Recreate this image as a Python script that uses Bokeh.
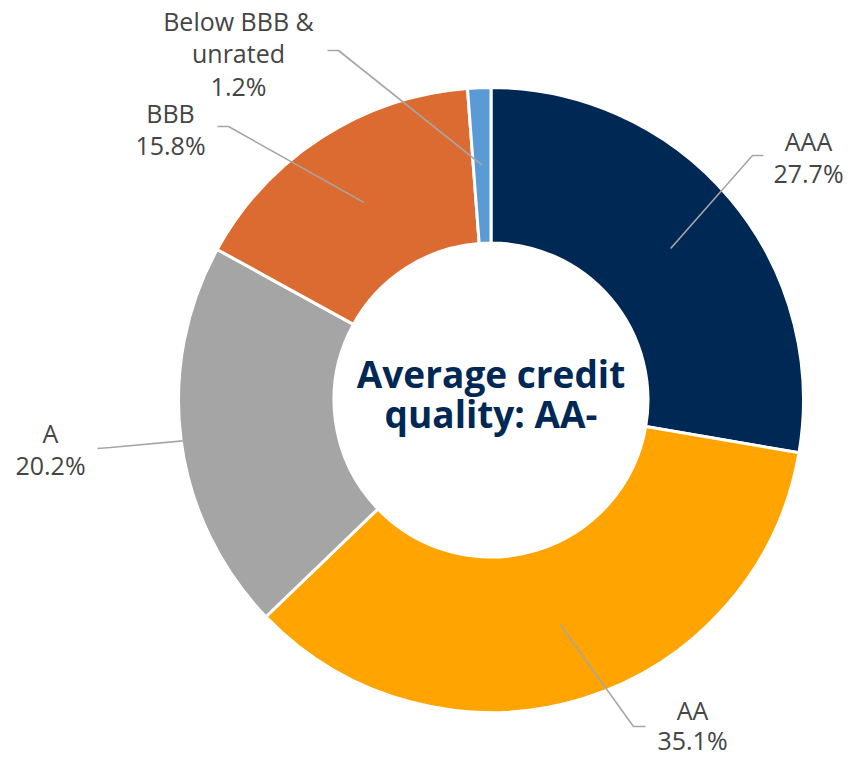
import numpy as np
from bokeh.plotting import figure
from bokeh.models import Range1d
from bokeh.core.properties import value
from bokeh.embed import file_html
from bokeh.resources import INLINE

# ---- data ----
categories = ["AAA", "AA", "A", "BBB", "Below BBB & unrated"]
label_lines = [["AAA"], ["AA"], ["A"], ["BBB"], ["Below BBB &", "unrated"]]
shares = [27.7, 35.1, 20.2, 15.8, 1.2]
colors = ["#002855", "#FFA400", "#A5A5A5", "#DC6B31", "#5B9BD5"]
center_title = ["Average credit", "quality: AA-"]

# ---- layout (screen-pixel helpers) ----
W, H = 851, 758
def Y(sy):  # screen y -> data y
    return H - sy

cx, cy = 490.5, Y(399.5)
r_out, r_in = 312.5, 157

p = figure(width=W, height=H, output_backend="svg", toolbar_location=None,
           x_range=Range1d(0, W), y_range=Range1d(0, H),
           min_border=0)
p.axis.visible = False
p.grid.visible = False
p.outline_line_color = None
p.background_fill_color = "white"

total = sum(shares)
fr = np.array(shares) / total
cum = np.concatenate([[0], np.cumsum(fr)])
start_deg = 90 - cum[1:] * 360
end_deg = 90 - cum[:-1] * 360

p.annular_wedge(x=cx, y=cy, inner_radius=r_in, outer_radius=r_out,
                start_angle=np.deg2rad(start_deg), end_angle=np.deg2rad(end_deg),
                fill_color=colors, line_color="white", line_width=3)

# leader lines and labels
mid = np.deg2rad(90 - (cum[:-1] + fr / 2) * 360)
lead_r = [235, 235, 311, 235, 235]
elbows = [(752, 155), (633, 726), (110, 447), (228, 126), (338, 50)]
ends = [(763, 155), (645, 726), (97, 448), (217, 126), (327, 50)]
label_pos = [(808, 140), (692, 709), (50, 432), (170, 112), (238, 20)]
line_gap = [32.5, 30, 32.5, 32.5, 32.5]

for i in range(len(shares)):
    sx = cx + lead_r[i] * np.cos(mid[i])
    sy = cy + lead_r[i] * np.sin(mid[i])
    p.line([sx, elbows[i][0], ends[i][0]], [sy, Y(elbows[i][1]), Y(ends[i][1])],
           line_color="#A6A6A6", line_width=1.6)
    lines = label_lines[i] + [f"{shares[i]:.1f}%"]
    lx, ly = label_pos[i]
    p.text(x=[lx] * len(lines), y=[Y(ly + k * line_gap[i]) for k in range(len(lines))],
           text=lines, text_align="center", text_baseline="middle",
           text_font=value("Open Sans"), text_font_size="25px", text_color="#454545")

# center title
p.text(x=[cx, cx], y=[Y(373), Y(413)], text=center_title,
       text_align="center", text_baseline="middle",
       text_font=value("Open Sans"), text_font_style="bold",
       text_font_size="37px", text_color="#002855")

open("out.html", "w").write(file_html(p, INLINE))
